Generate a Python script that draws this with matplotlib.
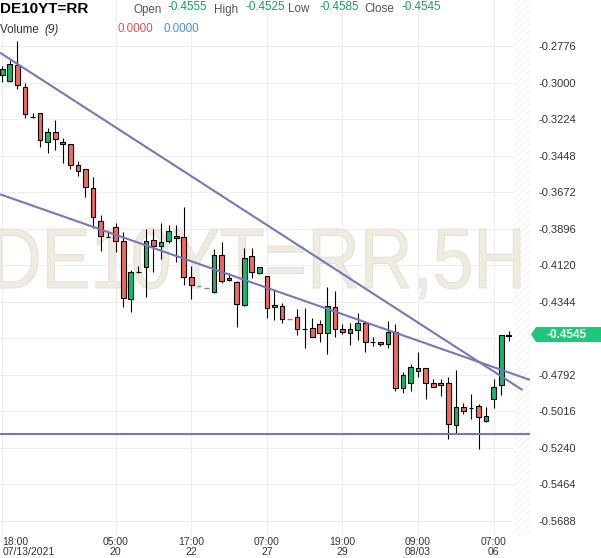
import numpy as np
import matplotlib
matplotlib.use("Agg")
import matplotlib.pyplot as plt
from matplotlib.textpath import TextPath
from matplotlib.patches import PathPatch, Polygon
from matplotlib.font_manager import FontProperties
from matplotlib.transforms import Affine2D, IdentityTransform

plt.rcParams['font.family'] = ['Liberation Sans', 'DejaVu Sans']
plt.rcParams['hatch.linewidth'] = 0.6

symbol = "DE10YT=RR"
watermark = "DE10YT=RR,5H"

# 5H candles, oldest first
opens = [-0.2956, -0.2992, -0.2893, -0.3029, -0.3209, -0.3187, -0.3366, -0.3305, -0.3366, -0.3379,
         -0.3507, -0.3532, -0.3648, -0.3847, -0.3945, -0.3884, -0.3973, -0.4329, -0.4160, -0.4133,
         -0.3967, -0.4004, -0.3973, -0.3955, -0.3949, -0.4190, -0.4247, -0.4261, -0.4287, -0.4060,
         -0.4212, -0.4221, -0.4366, -0.4066, -0.4169, -0.4189, -0.4378, -0.4367, -0.4451, -0.4440,
         -0.4511, -0.4507, -0.4482, -0.4537, -0.4378, -0.4513, -0.4537, -0.4517, -0.4476, -0.4592,
         -0.4591, -0.4605, -0.4527, -0.4874, -0.4840, -0.4752, -0.4752, -0.4844, -0.4844, -0.4844,
         -0.5101, -0.4987, -0.4993, -0.4986, -0.5078, -0.4942, -0.4856, -0.4555]
highs = [-0.2899, -0.2862, -0.2748, -0.3005, -0.3189, -0.3185, -0.3277, -0.3230, -0.3338, -0.3377,
         -0.3483, -0.3530, -0.3581, -0.3814, -0.3914, -0.3863, -0.3918, -0.4149, -0.4125, -0.3900,
         -0.3896, -0.3863, -0.3873, -0.3873, -0.3765, -0.4125, -0.4247, -0.4261, -0.4022, -0.3978,
         -0.4166, -0.4219, -0.4016, -0.4017, -0.4134, -0.4187, -0.4272, -0.4353, -0.4451, -0.4388,
         -0.4380, -0.4445, -0.4456, -0.4255, -0.4276, -0.4482, -0.4476, -0.4411, -0.4460, -0.4562,
         -0.4589, -0.4460, -0.4480, -0.4776, -0.4725, -0.4654, -0.4750, -0.4817, -0.4817, -0.4803,
         -0.4762, -0.4966, -0.4909, -0.4972, -0.4991, -0.4820, -0.4548, -0.4525]
lows = [-0.2995, -0.2995, -0.3041, -0.3220, -0.3216, -0.3397, -0.3434, -0.3415, -0.3491, -0.3528,
        -0.3571, -0.3704, -0.3894, -0.4035, -0.3950, -0.4041, -0.4374, -0.4405, -0.4169, -0.4313,
        -0.4163, -0.4084, -0.3985, -0.4100, -0.4241, -0.4329, -0.4247, -0.4261, -0.4290, -0.4229,
        -0.4214, -0.4500, -0.4368, -0.4201, -0.4171, -0.4445, -0.4456, -0.4476, -0.4451, -0.4545,
        -0.4625, -0.4560, -0.4592, -0.4666, -0.4558, -0.4543, -0.4611, -0.4578, -0.4650, -0.4615,
        -0.4615, -0.4625, -0.4889, -0.4905, -0.4889, -0.4803, -0.4942, -0.4867, -0.4922, -0.5185,
        -0.5156, -0.5032, -0.5064, -0.5248, -0.5084, -0.4997, -0.4914, -0.4585]
closes = [-0.2919, -0.2888, -0.3015, -0.3195, -0.3209, -0.3352, -0.3305, -0.3348, -0.3379, -0.3507,
          -0.3544, -0.3642, -0.3826, -0.3941, -0.3945, -0.3971, -0.4321, -0.4163, -0.4160, -0.3973,
          -0.4004, -0.3979, -0.3910, -0.3943, -0.4194, -0.4243, -0.4247, -0.4261, -0.4060, -0.4217,
          -0.4198, -0.4359, -0.4077, -0.4163, -0.4134, -0.4384, -0.4366, -0.4451, -0.4451, -0.4514,
          -0.4511, -0.4558, -0.4537, -0.4370, -0.4513, -0.4527, -0.4509, -0.4476, -0.4592, -0.4592,
          -0.4603, -0.4527, -0.4874, -0.4795, -0.4742, -0.4766, -0.4840, -0.4865, -0.4856, -0.5095,
          -0.4987, -0.5014, -0.4993, -0.5048, -0.5047, -0.4868, -0.4550, -0.4545]

xtick_pos = [0, 15, 25, 35, 45, 55, 65]
xtick_labels = ['18:00\n07/13/2021', '05:00\n20', '17:00\n22', '07:00\n27',
                '19:00\n29', '09:00\n08/03', '07:00\n06']
ytick_vals = [-0.2776 - 0.0224 * k for k in range(14)]

# drawn trend lines: (x0, y0, x1, y1) in candle index / price
trend_lines = [(-0.3, -0.2817, 68.8, -0.4885),
               (-0.3, -0.3685, 69.8, -0.4823),
               (-0.3, -0.5156, 69.8, -0.5156)]

header_vals = [('Open', -0.4555), ('High', -0.4525), ('Low', -0.4585), ('Close', -0.4545)]
volume_vals = [0.0, 0.0]

UP = '#0dbb6d'
DOWN = '#f3685c'
W, H = 601, 558

fig = plt.figure(figsize=(W / 100, H / 100), dpi=100)
ax = fig.add_axes([0, 23 / H, 530 / W, 535 / H])
ax.set_xlim(-0.3, 69.8)
ax.set_ylim(-0.5774, -0.2494)
for s in ax.spines.values():
    s.set_visible(False)

ax.set_xticks(xtick_pos)
ax.set_xticklabels(xtick_labels, fontsize=7.5, color='#333333', linespacing=0.95)
ax.get_xticklabels()[0].set_ha('left')
ax.tick_params(axis='x', length=0, pad=1.5)
ax.yaxis.tick_right()
ax.set_yticks(ytick_vals)
ax.set_yticklabels(['' if abs(v + 0.4568) < 1e-6 else '%.4f' % v for v in ytick_vals],
                   fontsize=8, color='#333333')
ax.tick_params(axis='y', length=0, pad=6)
ax.grid(True, color='#eeeeee', lw=0.8, zorder=0)
ax.set_axisbelow(True)

# future area
ax.axvspan(67.7, 69.8, facecolor='white', edgecolor='#ececec', hatch='/////', lw=0, zorder=1)

# watermark
fp = FontProperties(family='Liberation Sans')
tp = TextPath((0, 0), watermark, size=1, prop=fp)
ext = tp.get_extents()
cap = TextPath((0, 0), 'H', size=1, prop=fp).get_extents().ymax
sx = 525 / ext.width
sy = 59 / cap
tr = Affine2D().translate(-ext.x0, 0).scale(sx, sy).translate(-5, H - 288)
ax.add_patch(PathPatch(tp, transform=tr, facecolor='#efebe0', edgecolor='#e2ddcd',
                       lw=0.6, zorder=1.5))

# candles
x = np.arange(len(opens))
for i in x:
    o, h, l, c = opens[i], highs[i], lows[i], closes[i]
    if h == l:
        ax.hlines(o, i - 0.3, i + 0.3, color='#888888', lw=1, zorder=3)
        continue
    ax.vlines(i, l, h, color='black', lw=0.8, zorder=3)
    col = UP if c > o else DOWN
    ax.bar(i, abs(c - o), bottom=min(o, c), width=0.62, color=col,
           edgecolor='black', lw=0.8, zorder=4)

for x0, y0, x1, y1 in trend_lines:
    ax.plot([x0, x1], [y0, y1], color='#7876bc', lw=1.5, zorder=5, solid_capstyle='butt')

# last price box
yp = ax.transData.transform((0, closes[-1]))[1]
box = Polygon([(531, yp), (536, yp + 7.5), (W, yp + 7.5), (W, yp - 7.5), (536, yp - 7.5)],
              closed=True, facecolor='#1fc77a', edgecolor='none',
              transform=IdentityTransform())
fig.add_artist(box)
fig.text(567 / W, yp / H, '%.4f' % closes[-1], color='white', fontsize=8.5,
         fontweight='bold', ha='center', va='center')

# header
def top(y):
    return 1 - y / H

fig.text(0, top(12.7), symbol, fontsize=11, fontweight='bold', color='black', va='baseline')
lx = [133, 214, 288, 364]
vx = [168, 245, 319, 401]
for (name, val), a, b in zip(header_vals, lx, vx):
    fig.text(a / W, top(12.5), name, fontsize=8.4, color='#555555', va='baseline')
    fig.text(b / W, top(9.5), '%.4f' % val, fontsize=8.4, color='#17a05a', va='baseline')

fig.text(0, top(33.3), 'Volume ', fontsize=8.4, color='#333333', va='baseline')
fig.text(44 / W, top(33.3), '(9)', fontsize=8.4, color='#333333', va='baseline', style='italic')
fig.text(117 / W, top(31.7), '%.4f' % volume_vals[0], fontsize=8.4, color='#e05252', va='baseline')
fig.text(163 / W, top(31.7), '%.4f' % volume_vals[1], fontsize=8.4, color='#4a8fe0', va='baseline')

fig.savefig('out.png', dpi=100)
